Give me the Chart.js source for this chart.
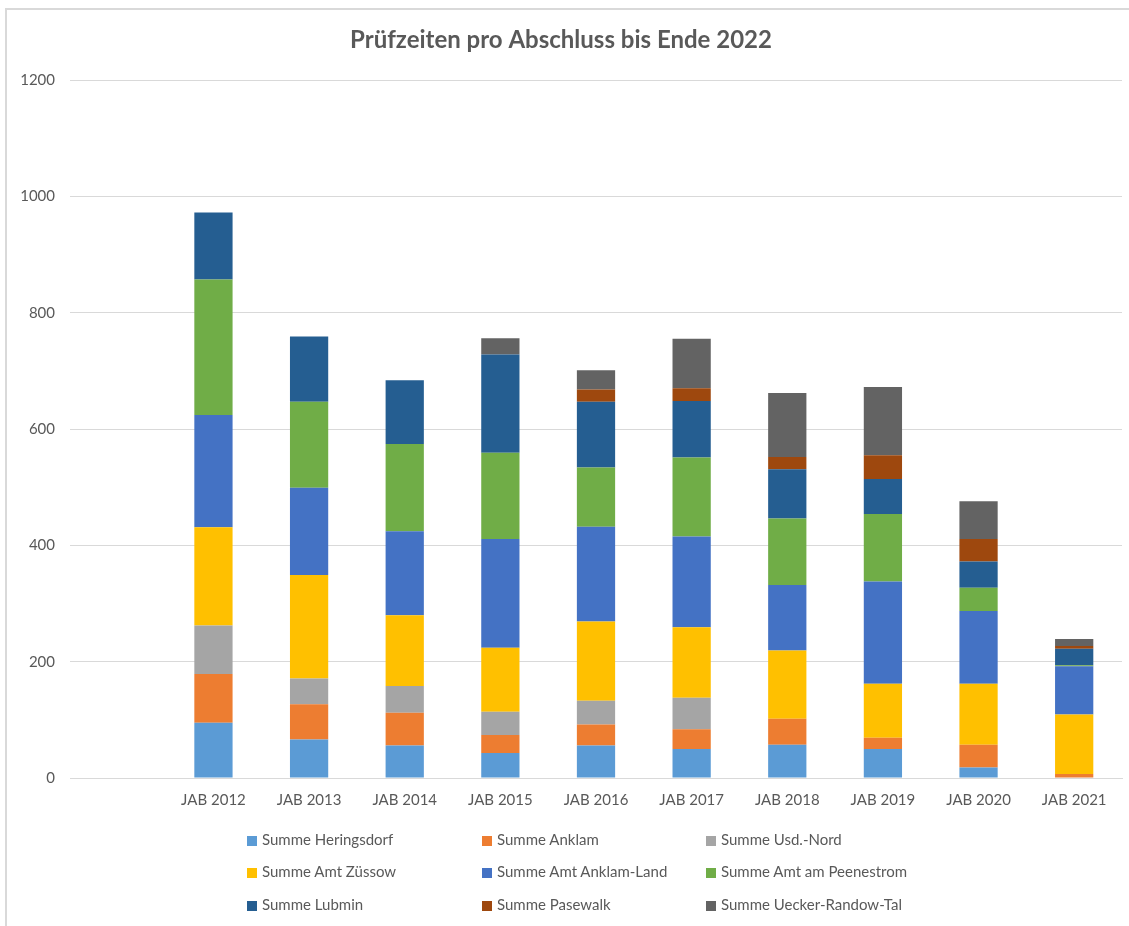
<!DOCTYPE html>
<html>
<head>
<meta charset="utf-8">
<script src="https://cdn.jsdelivr.net/npm/chart.js@4/dist/chart.umd.min.js"></script>
<style>
  html, body { margin: 0; padding: 0; background: #fff; overflow: hidden; }
  #wrap { position: relative; width: 1129px; height: 926px; }
  #frame { position: absolute; left: 5px; top: 8px; width: 1140px; height: 940px; border: 2px solid #d9d9d9; box-sizing: border-box; }
  canvas { position: absolute; left: 0; top: 0; }
  #legend { position: absolute; left: 0; top: 0; font-family: Lato, "Open Sans", sans-serif; font-size: 15px; color: #595959; }
  .item { position: absolute; white-space: nowrap; line-height: 18px; }
  .box { display: inline-block; width: 10px; height: 10px; margin-right: 5px; vertical-align: -1px; }
</style>
</head>
<body>
<div id="wrap">
  <div id="frame"></div>
  <canvas id="chart" width="1129" height="926"></canvas>
  <div id="legend"></div>
</div>
<script>
var categories = ["", "JAB 2012", "JAB 2013", "JAB 2014", "JAB 2015", "JAB 2016", "JAB 2017", "JAB 2018", "JAB 2019", "JAB 2020", "JAB 2021"];

var heringsdorf  = [null, 95, 66, 56, 43, 56, 50, 57, 50, 18, 0];
var anklam       = [null, 84, 61, 56, 31, 36, 34, 45, 19, 39, 7];
var usdNord      = [null, 83, 44, 46, 40, 41, 54, 0, 0, 0, 0];
var zuessow      = [null, 169, 178, 122, 110, 136, 121, 117, 93, 105, 102];
var anklamLand   = [null, 193, 150, 144, 187, 163, 156, 113, 176, 125, 83];
var peenestrom   = [null, 233, 148, 150, 148, 102, 136, 114, 116, 40, 2];
var lubmin       = [null, 115, 112, 110, 169, 113, 97, 85, 60, 45, 28];
var pasewalk     = [null, 0, 0, 0, 0, 21, 22, 21, 41, 39, 5];
var ueckerRandow = [null, 0, 0, 0, 28, 33, 85, 110, 117, 65, 12];

var seriesNames = ["Summe Heringsdorf", "Summe Anklam", "Summe Usd.-Nord", "Summe Amt Züssow", "Summe Amt Anklam-Land", "Summe Amt am Peenestrom", "Summe Lubmin", "Summe Pasewalk", "Summe Uecker-Randow-Tal"];
var seriesValues = [heringsdorf, anklam, usdNord, zuessow, anklamLand, peenestrom, lubmin, pasewalk, ueckerRandow];
var seriesColors = ["#5B9BD5", "#ED7D31", "#A5A5A5", "#FFC000", "#4472C4", "#70AD47", "#255E91", "#9E480E", "#636363"];

var yTicks = [0, 200, 400, 600, 800, 1000, 1200];

var datasets = seriesNames.map(function(name, i) {
    return {
        label: name,
        data: seriesValues[i],
        backgroundColor: seriesColors[i],
        borderWidth: 0,
        categoryPercentage: 1.0,
        barPercentage: 0.4
    };
});

var fontFamily = "Lato, 'Open Sans', sans-serif";

new Chart(document.getElementById("chart"), {
    type: "bar",
    data: { labels: categories, datasets: datasets },
    options: {
        responsive: false,
        animation: false,
        layout: { padding: { left: 0, right: 7, top: 8, bottom: 0 } },
        plugins: {
            legend: { display: false },
            tooltip: { enabled: false },
            title: {
                display: true,
                text: "Prüfzeiten pro Abschluss bis Ende 2022",
                color: "#595959",
                font: { family: fontFamily, size: 24, weight: "bold" },
                padding: { top: 18, bottom: 25.2 }
            }
        },
        scales: {
            x: {
                stacked: true,
                grid: { display: false, drawTicks: false },
                border: { color: "#d9d9d9", width: 1 },
                ticks: { color: "#595959", font: { family: fontFamily, size: 15 }, padding: 13, maxRotation: 0 },
                afterFit: function(scale) { scale.height = 148; }
            },
            y: {
                stacked: true,
                min: 0,
                max: 1200,
                afterBuildTicks: function(scale) {
                    scale.ticks = yTicks.map(function(v) { return { value: v }; });
                },
                grid: { color: "#d9d9d9", drawTicks: false },
                border: { display: false },
                ticks: {
                    color: "#595959",
                    font: { family: fontFamily, size: 15 },
                    padding: 15,
                    callback: function(value) { return String(value); }
                },
                afterFit: function(scale) { scale.width = 70; }
            }
        }
    }
});

// legend laid out in three columns like the original
var legendCols = [247, 482, 706];
var legendRows = [839, 871, 904];
var legend = document.getElementById("legend");
seriesNames.forEach(function(name, i) {
    var item = document.createElement("div");
    item.className = "item";
    item.style.left = legendCols[i % 3] + "px";
    item.style.top = (legendRows[Math.floor(i / 3)] - 9) + "px";
    var box = document.createElement("span");
    box.className = "box";
    box.style.background = seriesColors[i];
    item.appendChild(box);
    item.appendChild(document.createTextNode(name));
    legend.appendChild(item);
});
</script>
</body>
</html>
